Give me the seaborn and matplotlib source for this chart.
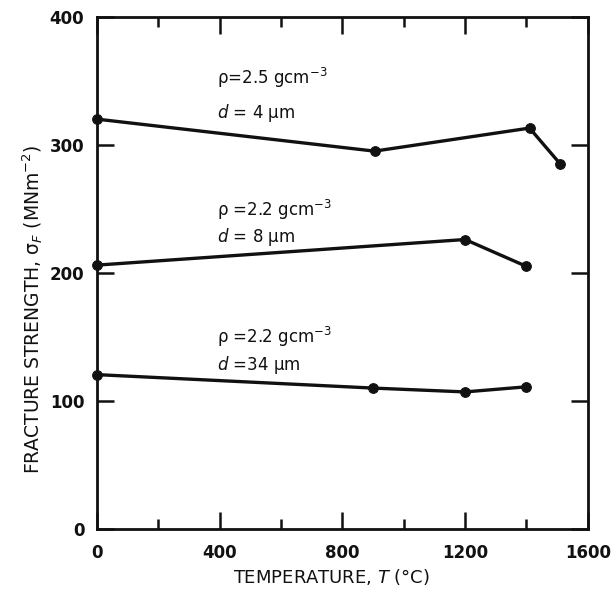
import matplotlib
matplotlib.use("Agg")
import matplotlib.pyplot as plt
import seaborn as sns
import pandas as pd
from matplotlib.ticker import MultipleLocator

# Fracture strength vs. temperature for three densities / grain sizes
temp_a = [0, 905, 1410, 1510]
strength_a = [320, 295, 313, 285]
temp_b = [0, 1200, 1400]
strength_b = [206, 226, 205]
temp_c = [0, 900, 1200, 1400]
strength_c = [120.5, 110, 107, 111]

labels_a = [r"ρ=2.5 gcm$^{-3}$", r"$d$ = 4 μm"]
labels_b = [r"ρ =2.2 gcm$^{-3}$", r"$d$ = 8 μm"]
labels_c = [r"ρ =2.2 gcm$^{-3}$", r"$d$ =34 μm"]
label_x = 390
label_y_a = [352, 325]
label_y_b = [249, 228]
label_y_c = [150, 128]

x_ticks = [0, 400, 800, 1200, 1600]
y_ticks = [0, 100, 200, 300, 400]

sns.set_theme(style="ticks")
plt.rcParams["font.family"] = ["DejaVu Sans"]
plt.rcParams["mathtext.fontset"] = "dejavusans"

frames = []
for name, t, s in [("a", temp_a, strength_a), ("b", temp_b, strength_b), ("c", temp_c, strength_c)]:
    frames.append(pd.DataFrame({"T": t, "S": s, "set": name}))
df = pd.concat(frames, ignore_index=True)

fig = plt.figure(figsize=(6.13, 5.95), dpi=100)
ax = fig.add_axes([0.158, 0.111, 0.801, 0.861])

sns.lineplot(data=df, x="T", y="S", units="set", estimator=None, color="#111111",
             linewidth=2.4, marker="o", markersize=7, markeredgecolor="#111111",
             ax=ax, legend=False, sort=False, clip_on=False)

ax.set_xlim(0, 1600)
ax.set_ylim(0, 400)
ax.set_xticks(x_ticks)
ax.xaxis.set_minor_locator(MultipleLocator(200))
ax.set_yticks(y_ticks)

ax.tick_params(axis="both", which="both", direction="in", top=True, right=True,
               width=1.8, color="#111111", labelcolor="#111111")
ax.tick_params(axis="x", which="major", length=12, pad=11, labelsize=12)
ax.tick_params(axis="x", which="minor", length=7.5)
ax.tick_params(axis="y", which="major", length=12, pad=9, labelsize=12)
for lab in ax.get_xticklabels() + ax.get_yticklabels():
    lab.set_fontweight("bold")
for side in ax.spines.values():
    side.set_linewidth(2.0)
    side.set_color("#111111")

ax.set_xlabel(r"TEMPERATURE, $T$ (°C)", fontsize=13, color="#111111")
ax.set_ylabel(r"FRACTURE STRENGTH, σ$_F$ (MNm$^{-2}$)", fontsize=13.5, color="#111111")
ax.xaxis.label.set_va("center")
ax.yaxis.label.set_va("center")
ax.xaxis.set_label_coords(0.477, -0.094)
ax.yaxis.set_label_coords(-0.13, 0.428)

for ys, labs in [(label_y_a, labels_a), (label_y_b, labels_b), (label_y_c, labels_c)]:
    for yv, txt in zip(ys, labs):
        ax.text(label_x, yv, txt, fontsize=12, ha="left", va="center", color="#111111")

fig.savefig("out.png", dpi=100)
